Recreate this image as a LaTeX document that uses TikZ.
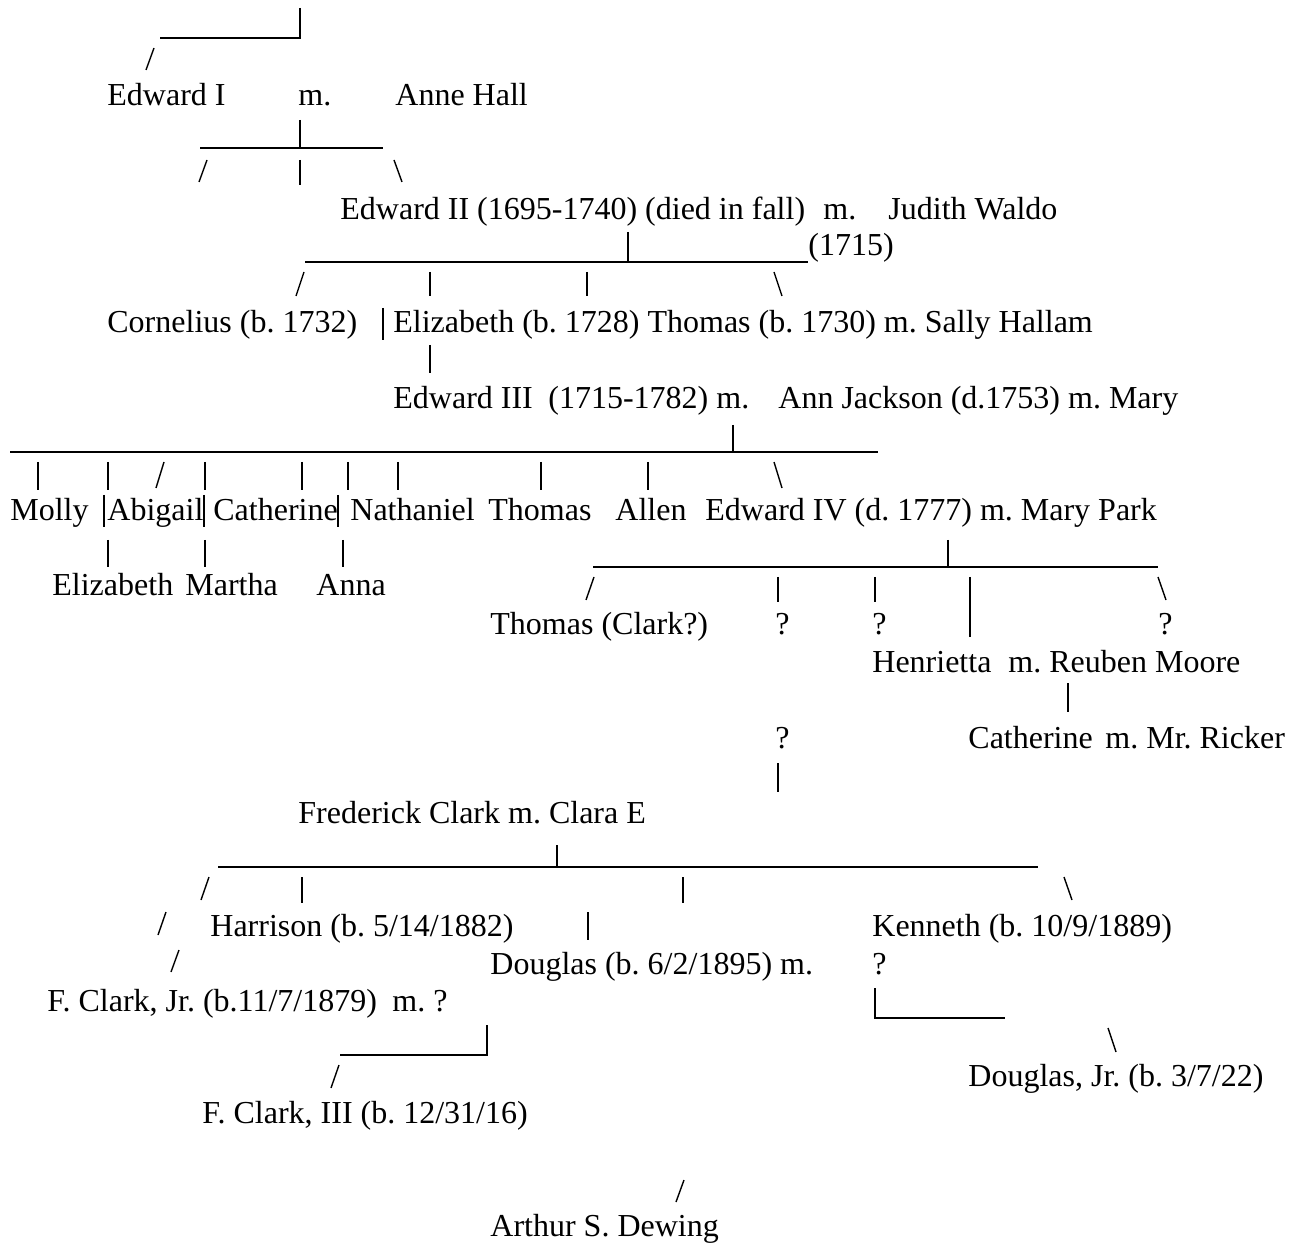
\documentclass[tikz,border=0pt]{standalone}
\usepackage{fontspec}
\setmainfont{Liberation Serif}
\tikzset{person/.style={anchor=base west, inner sep=0pt, font=\fontsize{16}{19}\selectfont\frenchspacing},
  stroke/.style={line width=0.7pt}}
\newcommand{\fwdtick}[3]{\draw[stroke] (#1-4,#3) -- (#1+4,#2);}
\newcommand{\backtick}[3]{\draw[stroke] (#1-4,#2) -- (#1+4,#3);}

\begin{document}
\begin{tikzpicture}[x=0.5pt, y=-0.5pt]
\useasboundingbox (0,0) rectangle (1301,1245);
            % Edward I
            \draw[stroke] (300,8) -- (300,38) -- (160,38);
            \fwdtick{150}{48}{70}
            \node[person] (ed1) at (107,106) {Edward I};
            \node[person] (m1) at (298,106) {m.};
            \node[person] (anne) at (395,106) {Anne Hall};
            \draw[stroke] (300,120) -- (300,148);
            \draw[stroke] (200,148) -- (383,148);
            \fwdtick{203}{160}{182}
            \draw[stroke] (300,160) -- (300,185);
            \backtick{398}{160}{182}
            % Edward II
            \node[person] (ed2) at (340,220) {Edward II (1695-1740) (died in fall)};
            \node[person] (m2) at (823,220) {m.};
            \node[person] (judith) at (888,220) {Judith Waldo};
            \draw[stroke] (628,232) -- (628,262);
            \draw[stroke] (305,262) -- (808,262);
            \node[person] (wed) at (808,256) {(1715)};
            \fwdtick{300}{272}{296}
            \draw[stroke] (430,272) -- (430,296);
            \draw[stroke] (587,272) -- (587,296);
            \backtick{778}{272}{296}
            \node[person] (corn) at (107,333) {Cornelius (b. 1732)};
            \draw[stroke] (383,308) -- (383,340);
            \node[person] (eliz) at (393,333) {Elizabeth (b. 1728) Thomas (b. 1730) m. Sally Hallam};
            \draw[stroke] (430,345) -- (430,373);
            % Edward III
            \node[person] (ed3) at (393,409) {Edward III};
            \node[person] (ed3d) at (548,409) {(1715-1782) m.};
            \node[person] (ann) at (778,409) {Ann Jackson (d.1753) m. Mary};
            \draw[stroke] (733,425) -- (733,452);
            \draw[stroke] (10,452) -- (878,452);
            \foreach \x in {38,108,205,302,348,398,541,648}
                \draw[stroke] (\x,462) -- (\x,490);
            \fwdtick{160}{462}{488}
            \backtick{778}{462}{488}
            \node[person] (molly) at (10,521) {Molly};
            \node[person] (abig) at (107,521) {Abigail};
            \node[person] (cath) at (213,521) {Catherine};
            \node[person] (nath) at (350,521) {Nathaniel};
            \node[person] (thom) at (488,521) {Thomas};
            \node[person] (allen) at (615,521) {Allen};
            \node[person] (ed4) at (705,521) {Edward IV (d. 1777) m. Mary Park};
            \foreach \x in {104,204,338}
                \draw[stroke] (\x,495) -- (\x,527);
            \foreach \x in {108,205,343}
                \draw[stroke] (\x,540) -- (\x,567);
            \node[person] (eliz2) at (52,596) {Elizabeth};
            \node[person] (martha) at (185,596) {Martha};
            \node[person] (anna) at (316,596) {Anna};
            % Edward IV
            \draw[stroke] (948,540) -- (948,567);
            \draw[stroke] (593,567) -- (1158,567);
            \fwdtick{590}{577}{600}
            \draw[stroke] (778,577) -- (778,602);
            \draw[stroke] (875,577) -- (875,602);
            \draw[stroke] (970,577) -- (970,637);
            \backtick{1162}{577}{600}
            \node[person] (thclark) at (490,634) {Thomas (Clark?)};
            \node[person] (q1) at (775,634) {?};
            \node[person] (q2) at (872,634) {?};
            \node[person] (q3) at (1158,634) {?};
            \node[person] (henr) at (872,672) {Henrietta};
            \node[person] (reuben) at (1008,672) {m. Reuben Moore};
            \draw[stroke] (1068,683) -- (1068,712);
            \node[person] (q4) at (775,748) {?};
            \node[person] (cath2) at (968,748) {Catherine};
            \node[person] (ricker) at (1105,748) {m. Mr. Ricker};
            \draw[stroke] (778,763) -- (778,792);
            % Frederick Clark
            \node[person] (fred) at (298,823) {Frederick Clark m. Clara E};
            \draw[stroke] (557,845) -- (557,867);
            \draw[stroke] (218,867) -- (1038,867);
            \fwdtick{205}{877}{900}
            \draw[stroke] (302,877) -- (302,903);
            \draw[stroke] (683,877) -- (683,903);
            \backtick{1068}{877}{900}
            \fwdtick{162}{912}{935}
            \node[person] (harr) at (210,936) {Harrison (b. 5/14/1882)};
            \draw[stroke] (588,912) -- (588,940);
            \node[person] (kenn) at (872,936) {Kenneth (b. 10/9/1889)};
            \fwdtick{175}{950}{972}
            \node[person] (doug) at (490,974) {Douglas (b. 6/2/1895) m.};
            \node[person] (q5) at (872,974) {?};
            \node[person] (fjr) at (47,1011) {F. Clark, Jr. (b.11/7/1879)};
            \node[person] (mq) at (392,1011) {m. ?};
            \draw[stroke] (875,988) -- (875,1018) -- (1005,1018);
            \draw[stroke] (487,1025) -- (487,1055) -- (340,1055);
            \backtick{1112}{1028}{1052}
            \fwdtick{335}{1065}{1088}
            \node[person] (djr) at (968,1086) {Douglas, Jr. (b. 3/7/22)};
            \node[person] (f3) at (202,1123) {F. Clark, III (b. 12/31/16)};
            \fwdtick{680}{1180}{1202}
            \node[person] (arthur) at (490,1236) {Arthur S. Dewing};
\end{tikzpicture}
\end{document}
